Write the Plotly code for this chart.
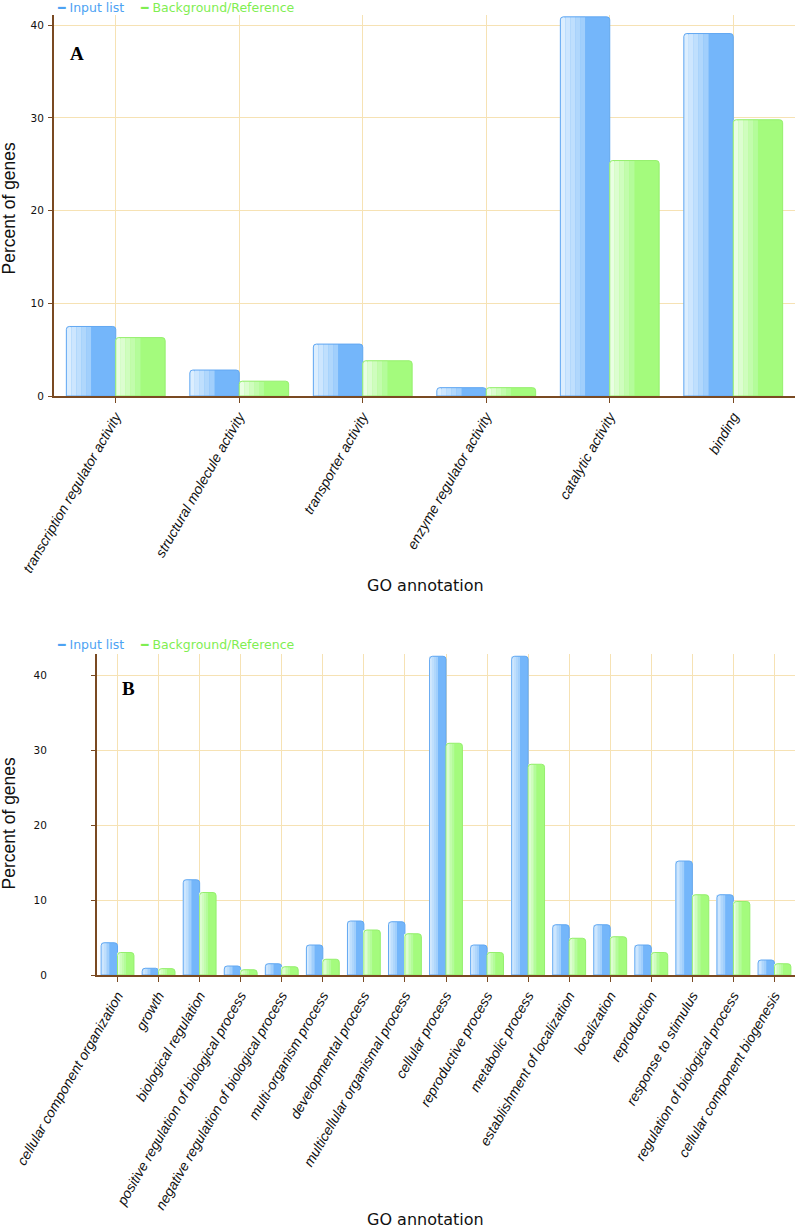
import plotly.graph_objects as go

# ---------------- data ----------------
cats_a = ["transcription regulator activity", "structural molecule activity",
          "transporter activity", "enzyme regulator activity",
          "catalytic activity", "binding"]
input_a = [7.5, 2.8, 5.6, 0.9, 40.9, 39.1]
ref_a = [6.3, 1.6, 3.8, 0.9, 25.4, 29.8]

cats_b = ["cellular component organization", "growth", "biological regulation",
          "positive regulation of biological process",
          "negative regulation of biological process", "multi-organism process",
          "developmental process", "multicellular organismal process",
          "cellular process", "reproductive process", "metabolic process",
          "establishment of localization", "localization", "reproduction",
          "response to stimulus", "regulation of biological process",
          "cellular component biogenesis"]
input_b = [4.3, 0.9, 12.7, 1.2, 1.5, 4.0, 7.2, 7.1, 42.5, 4.0, 42.5,
           6.7, 6.7, 4.0, 15.2, 10.7, 2.0]
ref_b = [3.0, 0.85, 11.0, 0.7, 1.1, 2.1, 6.0, 5.5, 30.9, 3.0, 28.1,
         4.9, 5.1, 3.0, 10.7, 9.8, 1.5]

y_ticks = [0, 10, 20, 30, 40]
series_names = ["Input list", "Background/Reference"]

# ---------------- style ----------------
W, H = 795, 1228
BROWN = "#7a4a22"
GRID = "#f6e2b4"
BLUE = dict(main="#74b6fa", line="#62a8f2",
            strips=["#dceefe", "#cde6fe", "#bfdffd", "#b0d7fc", "#a1cffc"], text="#4da2f3")
GREEN = dict(main="#a4fb7d", line="#95ef6e",
             strips=["#e9fee2", "#dcfdd0", "#cffdbe", "#c2fcac", "#b4fc9a"], text="#7fee52")

fig = go.Figure()


def add_series(cats, vals, start, pal, xa, ya, name):
    half = 0.4
    fig.add_trace(go.Bar(x=cats, y=vals, offset=start, width=half, xaxis=xa, yaxis=ya,
                         marker=dict(color=pal["main"], line=dict(width=0), cornerradius=3),
                         name=name, showlegend=False))
    n = len(pal["strips"])
    sw = half / 2 / n
    for i, c in enumerate(pal["strips"]):
        fig.add_trace(go.Bar(x=cats, y=vals, offset=start + i * sw, width=sw, xaxis=xa, yaxis=ya,
                             marker=dict(color=c, line=dict(width=0), cornerradius=3 if i == 0 else 0),
                             showlegend=False, hoverinfo="skip"))
    fig.add_trace(go.Bar(x=cats, y=vals, offset=start, width=half, xaxis=xa, yaxis=ya,
                         marker=dict(color="rgba(0,0,0,0)", line=dict(width=1, color=pal["line"]),
                                     cornerradius=3),
                         showlegend=False, hoverinfo="skip"))


add_series(cats_a, input_a, -0.4, BLUE, "x", "y", series_names[0])
add_series(cats_a, ref_a, 0.0, GREEN, "x", "y", series_names[1])
add_series(cats_b, input_b, -0.4, BLUE, "x2", "y2", series_names[0])
add_series(cats_b, ref_b, 0.0, GREEN, "x2", "y2", series_names[1])


def px_x(p):
    return p / W


def px_y(p):
    return 1 - p / H


xcommon = dict(type="category", showline=True, linecolor=BROWN, linewidth=2,
               ticks="outside", tickcolor=BROWN, ticklen=5, tickwidth=1,
               showgrid=True, gridcolor=GRID, gridwidth=1, tickangle=-60,
               tickfont=dict(family="Liberation Sans, Arial", size=14, style="italic", color="#111"),
               zeroline=False, fixedrange=True, automargin=False)
ycommon = dict(tickvals=y_ticks, showline=True, linecolor=BROWN, linewidth=2,
               ticks="outside", tickcolor=BROWN, ticklen=4, tickwidth=1,
               showgrid=True, gridcolor=GRID, gridwidth=1, zeroline=False,
               tickfont=dict(family="DejaVu Sans", size=10.5, color="#111"), fixedrange=True,
               automargin=False)

fig.update_layout(
    template="none",
    width=W, height=H, margin=dict(l=0, r=0, t=0, b=0, pad=0),
    paper_bgcolor="white", plot_bgcolor="white", barmode="overlay",
    showlegend=False,
    xaxis=dict(xcommon, domain=[px_x(54), 1.0], anchor="y", range=[-0.5, len(cats_a) - 0.5]),
    yaxis=dict(ycommon, domain=[px_y(396), px_y(15)], anchor="x", range=[0, 41.1],
               ticklabelstandoff=2),
    xaxis2=dict(xcommon, domain=[px_x(97), 1.0], anchor="y2", range=[-0.5, len(cats_b) - 0.5]),
    yaxis2=dict(ycommon, domain=[px_y(975), px_y(654)], anchor="x2", range=[0, 42.8],
                ticklabelstandoff=42),
)

ann = []
for ly in (7, 644):
    ann.append(dict(x=px_x(55), y=px_y(ly), text="━ " + series_names[0],
                    font=dict(family="DejaVu Sans", size=12.5, color=BLUE["text"])))
    ann.append(dict(x=px_x(138), y=px_y(ly), text="━ " + series_names[1],
                    font=dict(family="DejaVu Sans", size=12.5, color=GREEN["text"])))
for a in ann:
    a.update(xref="paper", yref="paper", xanchor="left", yanchor="middle", showarrow=False)

for txt, cx, cy in (("A", 76.5, 53.5), ("B", 128, 688.5)):
    ann.append(dict(x=px_x(cx), y=px_y(cy), text="<b>" + txt + "</b>", xref="paper", yref="paper",
                    showarrow=False, xanchor="center", yanchor="middle",
                    font=dict(family="Liberation Serif, Times New Roman", size=19, color="#000")))
for cy in (208, 823):
    ann.append(dict(x=px_x(8.5), y=px_y(cy), text="Percent of genes", textangle=-90,
                    xref="paper", yref="paper", showarrow=False, xanchor="center", yanchor="middle",
                    font=dict(family="Liberation Sans, Arial", size=17.5, color="#111")))
for cy in (585, 1219):
    ann.append(dict(x=px_x(425), y=px_y(cy), text="GO annotation", xref="paper", yref="paper",
                    showarrow=False, xanchor="center", yanchor="middle",
                    font=dict(family="DejaVu Sans", size=16, color="#111")))
fig.update_layout(annotations=ann)

fig.write_html("out.html", config={"displayModeBar": False},
               post_script="document.body.style.margin='0';document.body.style.overflow='hidden';")
